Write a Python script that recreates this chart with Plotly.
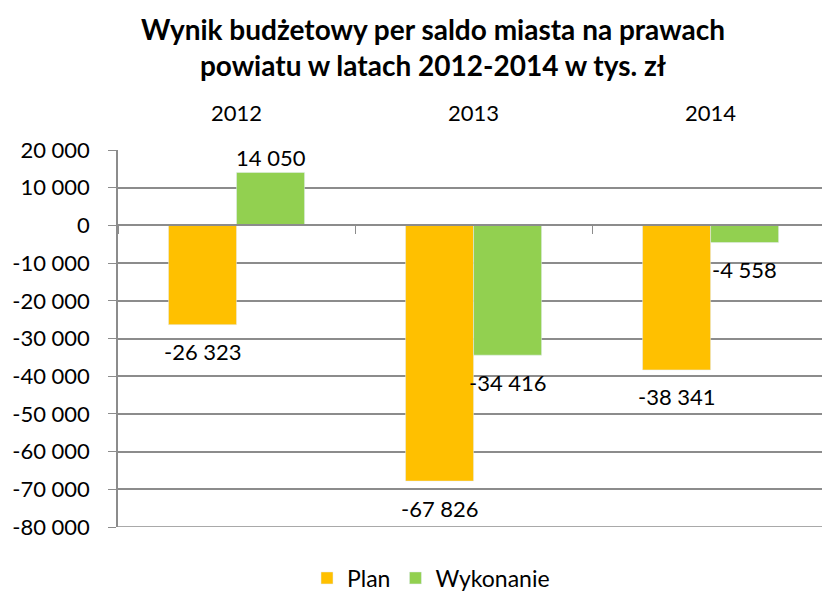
import plotly.graph_objects as go

years = ["2012", "2013", "2014"]
plan = [-26323, -67826, -38341]
wykonanie = [14050, -34416, -4558]
tick_values = [20000, 10000, 0, -10000, -20000, -30000, -40000, -50000, -60000, -70000, -80000]
tick_labels = ["20 000", "10 000", "0", "-10 000", "-20 000", "-30 000", "-40 000",
               "-50 000", "-60 000", "-70 000", "-80 000"]
title_lines = ["Wynik budżetowy per saldo miasta na prawach",
               "powiatu w latach 2012-2014 w tys. zł"]

def fmt(v):
    return f"{v:,}".replace(",", " ")

FONT = "Lato"
GRID = "#8c8c8c"
y_min, y_max = -80000, 20000
W, H = 822, 591
ML, MR, MT, MB = 118, 0, 150, 64
plot_w = W - ML - MR
plot_h = H - MT - MB
bargap = 0.426
x_range = [-0.5, 2.47]
cat_px = plot_w / (x_range[1] - x_range[0])
bar_px = cat_px * (1 - bargap) / 2

def px_x(px):
    return (px - ML) / plot_w

def px_y(py):
    return 1 + (MT - py) / plot_h

fig = go.Figure()
fig.add_trace(go.Bar(name="Plan", x=years, y=plan, marker_color="#FFC000",
                     hoverinfo="x+y"))
fig.add_trace(go.Bar(name="Wykonanie", x=years, y=wykonanie, marker_color="#92D050",
                     hoverinfo="x+y"))

annotations = []
for series, dx in ((plan, -bar_px / 2), (wykonanie, bar_px / 2)):
    for i, v in enumerate(series):
        annotations.append(dict(x=i, y=v, xref="x", yref="y", text=fmt(v),
                                showarrow=False, xshift=dx,
                                yshift=(15 if v >= 0 else -27),
                                font=dict(family=FONT, size=22, color="black")))
for i, yr in enumerate(years):
    annotations.append(dict(x=i, y=px_y(113), xref="x", yref="paper",
                            text=yr, showarrow=False, yanchor="middle",
                            font=dict(family=FONT, size=22, color="black")))
annotations.append(dict(x=px_x(433), y=px_y(47.5), xref="paper", yref="paper",
                        text="<b>" + "<br>".join(title_lines) + "</b>",
                        showarrow=False, xanchor="center", yanchor="middle",
                        font=dict(family=FONT, size=28, color="black")))

fig.update_layout(
    width=W, height=H,
    margin=dict(l=ML, r=MR, t=MT, b=MB, autoexpand=False),
    paper_bgcolor="white", plot_bgcolor="white",
    font=dict(family=FONT, size=22, color="black"),
    barmode="group", bargap=bargap, bargroupgap=0,
    xaxis=dict(type="category", range=x_range, anchor="free",
               position=(0 - y_min) / (y_max - y_min), side="bottom",
               showline=True, linecolor=GRID, linewidth=1.5,
               ticks="outside", tickson="boundaries", ticklen=8, tickcolor=GRID,
               showticklabels=False, showgrid=False, automargin=False),
    yaxis=dict(range=[y_min, y_max], tickvals=tick_values, ticktext=tick_labels,
               showgrid=True, gridcolor=GRID, gridwidth=1.5,
               showline=True, linecolor=GRID, linewidth=1.5,
               ticks="outside", ticklen=8, tickcolor=GRID,
               zeroline=False, ticklabelstandoff=14, automargin=False,
               tickfont=dict(family=FONT, size=22)),
    legend=dict(orientation="h", x=px_x(431), xanchor="center", y=px_y(578),
                yanchor="middle", font=dict(family=FONT, size=23)),
    annotations=annotations,
    shapes=[dict(type="line", xref="paper", yref="y", x0=0, x1=1, y0=y_min, y1=y_min,
                 line=dict(color=GRID, width=1.5), layer="below")],
    showlegend=True,
)

fig.write_html("out.html", post_script="document.body.style.margin='0';",
               config={"displayModeBar": False})
